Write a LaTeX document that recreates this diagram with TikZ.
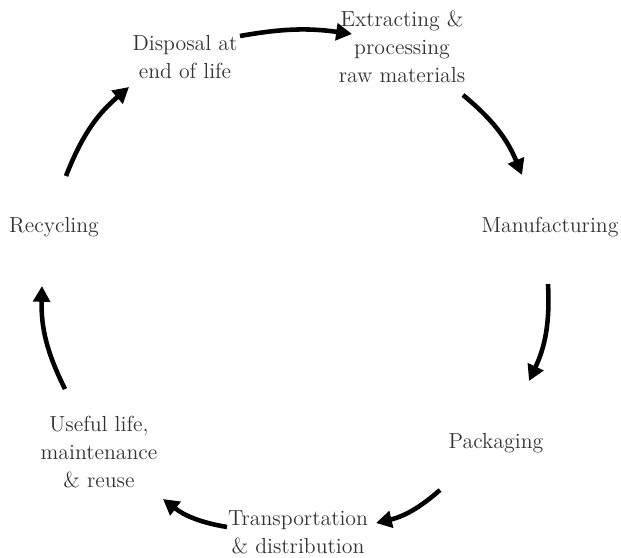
\documentclass[tikz,border=0pt]{standalone}
\usetikzlibrary{arrows.meta}
\tikzset{>=latex}
\tikzset{
  stage/.style={align=center, inner sep=0pt, text=black!80,
    font=\fontsize{12.4pt}{15.9pt}\selectfont},
  cycarrow/.style={line width=2.6pt, -{Triangle[length=9pt,width=9.5pt]}, bend left=14}}

\begin{document}
\begin{tikzpicture}[x=0.02cm,y=-0.02cm]
    \useasboundingbox (0,0) rectangle (621,557);
    % stages of the life cycle
    \node[stage] (disposal) at (185,57) {Disposal at\\end of life};
    \node[stage] (extract) at (402,47) {Extracting \&\\processing\\raw materials};
    \node[stage] (manuf) at (550,227) {Manufacturing};
    \node[stage] (pack) at (496,443) {Packaging};
    \node[stage] (transp) at (298,532) {Transportation\\\& distribution};
    \node[stage] (useful) at (99,452) {Useful life,\\maintenance\\\& reuse};
    \node[stage] (recycle) at (54,227) {Recycling};
    % ends of the arrows
    \coordinate (disposal-out) at (240,36);
    \coordinate (extract-in) at (352,34);
    \coordinate (extract-out) at (463,95);
    \coordinate (manuf-in) at (522,175);
    \coordinate (manuf-out) at (548,284);
    \coordinate (pack-in) at (529,381);
    \coordinate (pack-out) at (440,490);
    \coordinate (transp-in) at (376,523);
    \coordinate (transp-out) at (227,527);
    \coordinate (useful-in) at (163,499);
    \coordinate (useful-out) at (65,389);
    \coordinate (recycle-in) at (42,286);
    \coordinate (recycle-out) at (66,176);
    \coordinate (disposal-in) at (129,87);
    \draw[cycarrow, bend left=9] (disposal-out) to (extract-in);
    \draw[cycarrow] (extract-out) to (manuf-in);
    \draw[cycarrow] (manuf-out) to (pack-in);
    \draw[cycarrow] (pack-out) to (transp-in);
    \draw[cycarrow] (transp-out) to (useful-in);
    \draw[cycarrow] (useful-out) to (recycle-in);
    \draw[cycarrow] (recycle-out) to (disposal-in);
\end{tikzpicture}
\end{document}
